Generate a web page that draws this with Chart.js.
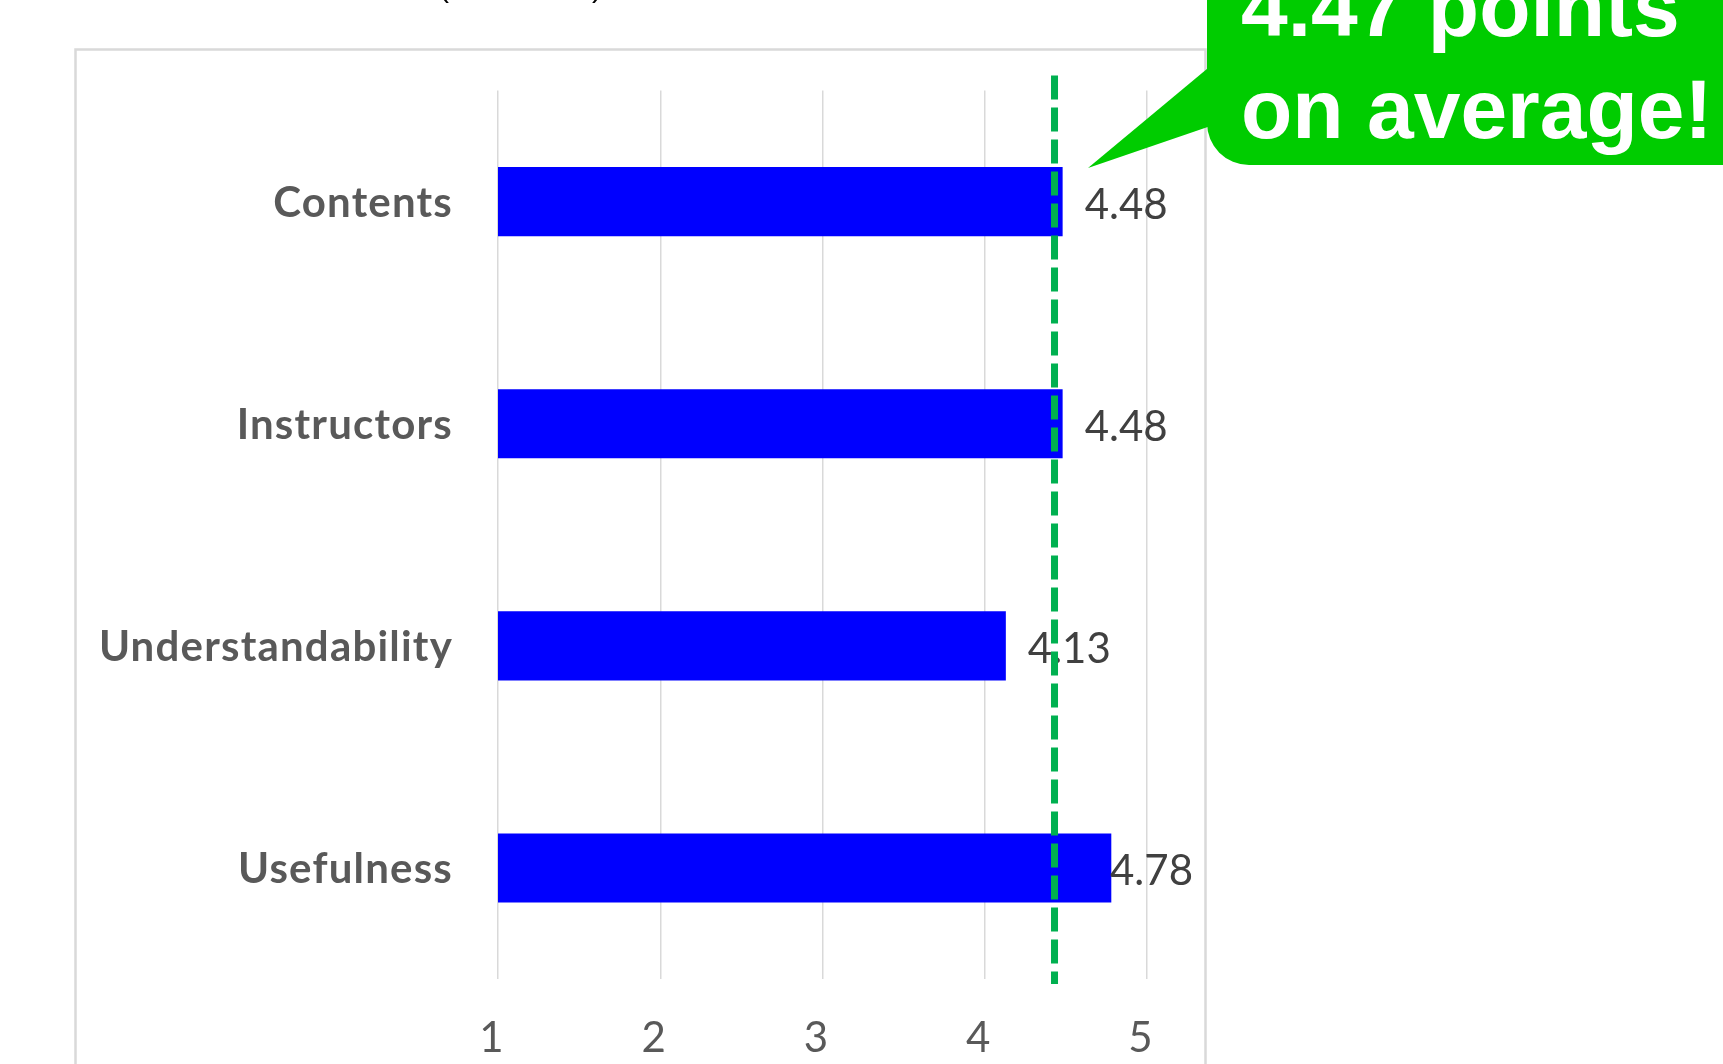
<!DOCTYPE html>
<html>
<head>
<meta charset="utf-8">
<script src="https://cdn.jsdelivr.net/npm/chart.js@4.4.1/dist/chart.umd.min.js"></script>
<style>
  html, body { margin: 0; padding: 0; background: #ffffff; }
  #wrap { position: relative; width: 1723px; height: 1064px; overflow: hidden; }
  canvas { display: block; }
</style>
</head>
<body>
<div id="wrap"><canvas id="c" width="1723" height="1064"></canvas></div>
<script>
// ---- data ----
const categories = ['Contents', 'Instructors', 'Understandability', 'Usefulness'];
const scores = [4.48, 4.48, 4.13, 4.78];
const tickValues = [1, 2, 3, 4, 5];
const averageLine = 4.43;            // where the dashed line is drawn
const calloutLines = ['4.47 points', 'on average!'];
const titleFragments = ['(', ')'];   // only the bottoms of a cut-off title are visible

// ---- plugins ----
const framePlugin = {
  id: 'frame',
  beforeDraw(chart) {
    const ctx = chart.ctx;
    ctx.save();
    ctx.fillStyle = '#ffffff';
    ctx.fillRect(0, 0, chart.width, chart.height);
    ctx.strokeStyle = '#d9d9d9';
    ctx.lineWidth = 2.5;
    ctx.strokeRect(75.5, 49.5, 1130, 1100);
    // cut-off title fragments
    ctx.fillStyle = '#000000';
    ctx.font = '30px "Liberation Sans", Arial, sans-serif';
    ctx.textBaseline = 'alphabetic';
    ctx.textAlign = 'left';
    ctx.fillText(titleFragments[0], 439, -3.5);
    ctx.fillText(titleFragments[1], 592, -3.5);
    ctx.restore();
    // slightly wider letter spacing for the axis labels
    if ('letterSpacing' in ctx) ctx.letterSpacing = '1.2px';
  },
  beforeDatasetsDraw(chart) {
    const ctx = chart.ctx;
    if ('letterSpacing' in ctx) ctx.letterSpacing = '0px';
  }
};

const labelPlugin = {
  id: 'valueLabels',
  afterDatasetsDraw(chart) {
    const ctx = chart.ctx;
    const meta = chart.getDatasetMeta(0);
    const area = chart.chartArea;
    ctx.save();
    ctx.font = '42px Lato, "Open Sans", sans-serif';
    ctx.fillStyle = '#404040';
    ctx.textAlign = 'left';
    ctx.textBaseline = 'middle';
    meta.data.forEach((bar, i) => {
      const txt = scores[i].toFixed(2);
      const w = ctx.measureText(txt).width;
      const lx = Math.min(bar.x + 22, area.right + 46 - w);
      ctx.fillText(txt, lx, bar.y + 4);
    });
    // average dashed line
    const ax = chart.scales.x.getPixelForValue(averageLine);
    ctx.strokeStyle = '#00b050';
    ctx.lineWidth = 7;
    ctx.setLineDash([24, 8]);
    ctx.beginPath();
    ctx.moveTo(ax, area.top - 15);
    ctx.lineTo(ax, area.bottom + 5);
    ctx.stroke();
    ctx.restore();
  }
};

const calloutPlugin = {
  id: 'callout',
  afterDraw(chart) {
    const ctx = chart.ctx;
    ctx.save();
    ctx.fillStyle = '#00cc00';
    // rounded box (extends off the top and right of the picture)
    const x0 = 1207, y0 = -120, x1 = 1780, y1 = 165, r = 42;
    ctx.beginPath();
    ctx.moveTo(x0 + r, y0);
    ctx.lineTo(x1, y0);
    ctx.lineTo(x1, y1);
    ctx.lineTo(x0 + r, y1);
    ctx.arcTo(x0, y1, x0, y1 - r, r);
    ctx.lineTo(x0, y0);
    ctx.closePath();
    ctx.fill();
    // pointer
    ctx.beginPath();
    ctx.moveTo(1088, 168);
    ctx.lineTo(1215, 62.2);
    ctx.lineTo(1215, 124.6);
    ctx.closePath();
    ctx.fill();
    // text
    ctx.fillStyle = '#ffffff';
    ctx.font = 'bold 84px "Liberation Sans", Arial, sans-serif';
    ctx.textAlign = 'left';
    ctx.textBaseline = 'alphabetic';
    ctx.fillText(calloutLines[0], 1241, 36);
    ctx.fillText(calloutLines[1], 1241, 138);
    ctx.restore();
  }
};

new Chart(document.getElementById('c'), {
  type: 'bar',
  data: {
    labels: categories,
    datasets: [{
      data: scores,
      backgroundColor: '#0000ff',
      borderWidth: 0,
      barPercentage: 0.311,
      categoryPercentage: 1.0
    }]
  },
  options: {
    indexAxis: 'y',
    responsive: false,
    animation: false,
    events: [],
    layout: { padding: { left: 0, right: 576, top: 90.6, bottom: 0 } },
    plugins: {
      legend: { display: false },
      tooltip: { enabled: false },
      title: { display: false }
    },
    scales: {
      x: {
        type: 'linear',
        min: tickValues[0],
        max: tickValues[tickValues.length - 1],
        afterBuildTicks(scale) { scale.ticks = tickValues.map(v => ({ value: v })); },
        afterFit(scale) { scale.height = 85; },
        grid: { color: '#d9d9d9', lineWidth: 1.5, drawTicks: false },
        border: { display: false },
        ticks: {
          padding: 34,
          labelOffset: -6,
          color: '#595959',
          font: { family: 'Lato', size: 42 },
          callback: v => String(v)
        }
      },
      y: {
        type: 'category',
        afterFit(scale) { scale.width = 498; },
        grid: { display: false, drawTicks: false },
        border: { display: false },
        ticks: {
          padding: 45,
          labelOffset: 2,
          color: '#595959',
          font: { family: 'Lato', size: 42, weight: 'bold' }
        }
      }
    }
  },
  plugins: [framePlugin, labelPlugin, calloutPlugin]
});
</script>
</body>
</html>
